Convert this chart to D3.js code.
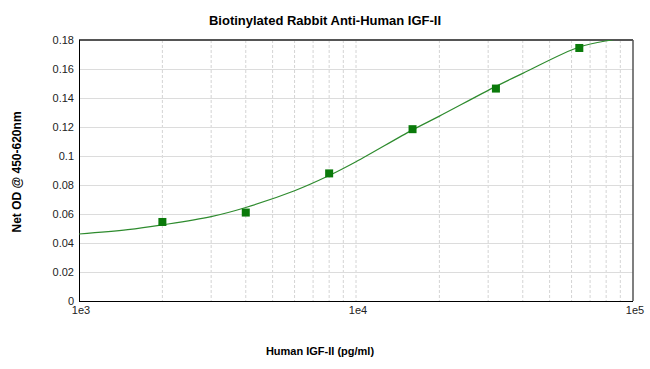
<!DOCTYPE html>
<head>
  <meta charset="utf-8" />
  <script src="https://d3js.org/d3.v7.min.js"></script>
  <style>
    body { margin: 0; background: #fff; }
    text { font-family: "Liberation Sans", Arial, sans-serif; }
  </style>
</head>
<body>
  <div id="chart"></div>
  <script>
    // donnees
    const concentrations = [2000, 4000, 8000, 16000, 32000, 64000];
    const odValues = [0.0545, 0.0610, 0.0880, 0.1185, 0.1465, 0.1745];

    // courbe d'ajustement
    const curveX = [1000, 1500, 2000, 3000, 4000, 6000, 8000, 10000, 16000, 20000, 32000, 40000, 64000, 86000, 100000];
    const curveY = [0.0462, 0.0492, 0.0525, 0.0582, 0.0645, 0.0760, 0.0865, 0.0960, 0.1180, 0.1275, 0.1480, 0.1570, 0.1752, 0.1805, 0.1830];

    const yTicks = [0, 0.02, 0.04, 0.06, 0.08, 0.1, 0.12, 0.14, 0.16, 0.18];
    const xTickLabels = ["1e3", "1e4", "1e5"];

    const width = 650, height = 369;
    const plot = { left: 79, right: 633, top: 40, bottom: 301 };

    const svg = d3.select("#chart").append("svg")
      .attr("width", width)
      .attr("height", height);

    const x = d3.scaleLog().domain([1000, 100000]).range([plot.left, plot.right]);
    const y = d3.scaleLinear().domain([0, 0.18]).range([plot.bottom, plot.top]);

    // grille verticale (pointilles)
    const minorTicks = [];
    [1000, 10000].forEach(function (dec) {
      for (let k = 1; k <= 9; k++) {
        if (dec * k > 1000) minorTicks.push(dec * k);
      }
    });
    svg.append("g").selectAll("line")
      .data(minorTicks)
      .join("line")
      .attr("x1", d => x(d)).attr("x2", d => x(d))
      .attr("y1", plot.top).attr("y2", plot.bottom)
      .style("stroke", "#d4d4d4")
      .style("stroke-dasharray", "3,2")
      .style("stroke-width", 1);

    // grille horizontale
    svg.append("g").selectAll("line")
      .data(yTicks.slice(1))
      .join("line")
      .attr("x1", plot.left).attr("x2", plot.right)
      .attr("y1", d => Math.round(y(d)) + 0.5).attr("y2", d => Math.round(y(d)) + 0.5)
      .style("stroke", "#dcdcdc")
      .style("stroke-width", 1);

    // cadre
    svg.append("line")
      .attr("x1", plot.left).attr("x2", plot.right)
      .attr("y1", plot.top).attr("y2", plot.top)
      .style("stroke", "#555").style("stroke-width", 2);
    svg.append("line")
      .attr("x1", plot.right).attr("x2", plot.right)
      .attr("y1", plot.top).attr("y2", plot.bottom)
      .style("stroke", "#555").style("stroke-width", 1.5);
    svg.append("line")
      .attr("x1", plot.left + 0.5).attr("x2", plot.left + 0.5)
      .attr("y1", plot.top).attr("y2", plot.bottom)
      .style("stroke", "#000").style("stroke-width", 1);
    svg.append("line")
      .attr("x1", plot.left).attr("x2", plot.right)
      .attr("y1", plot.bottom + 0.5).attr("y2", plot.bottom + 0.5)
      .style("stroke", "#000").style("stroke-width", 1);

    // labels axe y
    svg.append("g").selectAll("text")
      .data(yTicks)
      .join("text")
      .attr("x", 74)
      .attr("y", d => y(d) + 4)
      .attr("text-anchor", "end")
      .style("font-size", "11px")
      .style("fill", "#222")
      .text(d => d === 0 ? "0" : d3.format("~g")(d));

    // labels axe x
    svg.append("g").selectAll("text")
      .data(xTickLabels)
      .join("text")
      .attr("x", (d, i) => x(Math.pow(10, i + 3)) + 2)
      .attr("y", 314)
      .attr("text-anchor", "middle")
      .style("font-size", "11px")
      .style("fill", "#222")
      .text(d => d);

    // courbe
    svg.append("defs").append("clipPath").attr("id", "clip")
      .append("rect")
      .attr("x", plot.left).attr("y", plot.top)
      .attr("width", plot.right - plot.left).attr("height", plot.bottom - plot.top);

    const line = d3.line()
      .x((d, i) => x(curveX[i]))
      .y(d => y(d))
      .curve(d3.curveCatmullRom.alpha(0.5));

    svg.append("path")
      .datum(curveY)
      .attr("clip-path", "url(#clip)")
      .attr("d", line)
      .style("fill", "none")
      .style("stroke", "#2e8b2e")
      .style("stroke-width", 1.2);

    // points
    svg.append("g").selectAll("rect")
      .data(odValues)
      .join("rect")
      .attr("x", (d, i) => x(concentrations[i]) - 4)
      .attr("y", d => y(d) - 4)
      .attr("width", 8)
      .attr("height", 8)
      .style("fill", "#0a7a0a");

    // titres
    svg.append("text")
      .attr("x", 325).attr("y", 25)
      .attr("text-anchor", "middle")
      .style("font-size", "13px")
      .style("font-weight", "bold")
      .text("Biotinylated Rabbit Anti-Human IGF-II");

    svg.append("text")
      .attr("x", 320).attr("y", 355)
      .attr("text-anchor", "middle")
      .style("font-size", "11px")
      .style("font-weight", "bold")
      .text("Human IGF-II (pg/ml)");

    svg.append("text")
      .attr("transform", "translate(21,172) rotate(-90)")
      .attr("text-anchor", "middle")
      .style("font-size", "12px")
      .style("font-weight", "bold")
      .text("Net OD @ 450-620nm");
  </script>
</body>
